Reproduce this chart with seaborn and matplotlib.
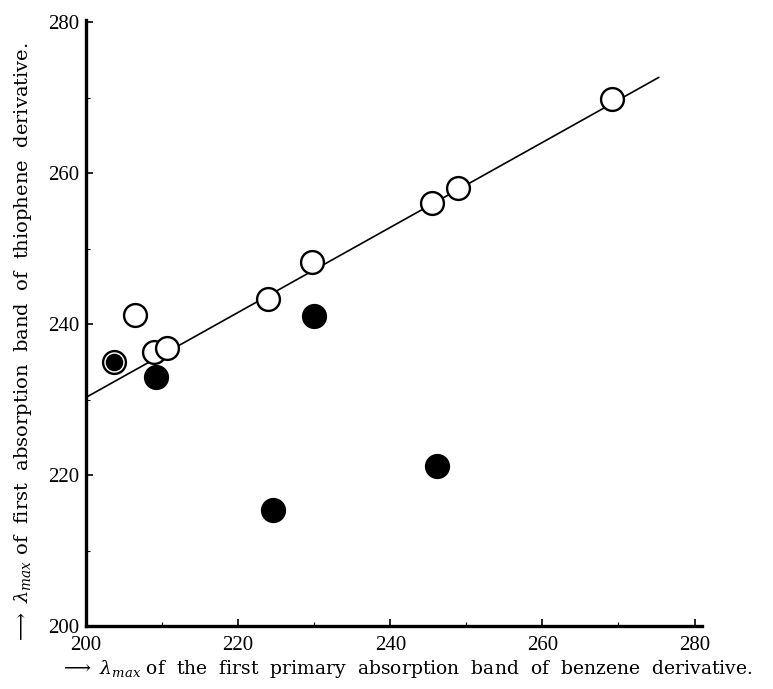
import seaborn as sns
import numpy as np
import pandas as pd
import matplotlib.pyplot as plt
from matplotlib.ticker import MultipleLocator

# benzene (x) vs thiophene (y) lambda max, nm
open_x = [269.1, 248.9, 245.5, 229.7, 223.9, 206.4, 208.9, 210.6]
open_y = [269.9, 258.1, 256.0, 248.2, 243.4, 241.2, 236.3, 236.8]
filled_x = [209.2, 230.0, 224.6, 246.1]
filled_y = [233.0, 241.1, 215.4, 221.2]
both_x = [203.7]
both_y = [235.0]
line_x = [200.0, 275.3]
line_y = [230.3, 272.7]

xticks = [200, 220, 240, 260, 280]
yticks = [200, 220, 240, 260, 280]

sns.set_style('white')
plt.rcParams['font.family'] = ['DejaVu Serif']
plt.rcParams['mathtext.fontset'] = 'dejavuserif'
for k in ['text.color', 'axes.labelcolor', 'xtick.color', 'ytick.color']:
    plt.rcParams[k] = 'black'

fig = plt.figure(figsize=(7.73, 6.89), dpi=100)
ax = fig.add_axes([0.1113, 0.0914, 0.797, 0.8795])

sns.lineplot(x=line_x, y=line_y, color='black', linewidth=1.2, ax=ax)

opn = pd.DataFrame({'x': open_x + both_x, 'y': open_y + both_y})
sns.scatterplot(data=opn, x='x', y='y', s=270, facecolor='white', edgecolor='black',
                linewidth=1.7, ax=ax, zorder=3)
sns.scatterplot(x=filled_x, y=filled_y, s=330, color='black', edgecolor='black', linewidth=0,
                ax=ax, zorder=4)
sns.scatterplot(x=both_x, y=both_y, s=160, color='black', edgecolor='black', linewidth=0,
                ax=ax, zorder=4)

ax.set_xlim(200, 281)
ax.set_ylim(200, 280.3)
ax.set_xticks(xticks)
ax.set_yticks(yticks)
ax.xaxis.set_minor_locator(MultipleLocator(10))
ax.yaxis.set_minor_locator(MultipleLocator(10))
ax.tick_params(which='major', direction='in', length=5, width=1.2, pad=4)
ax.tick_params(which='minor', direction='in', length=3, width=0.8)
ax.tick_params(axis='x', which='both', bottom=True, pad=7)
ax.tick_params(axis='y', which='both', left=True, pad=5)
for lab in ax.get_xticklabels() + ax.get_yticklabels():
    lab.set_family('Liberation Serif')
    lab.set_fontsize(15)

sns.despine(ax=ax)
ax.spines['left'].set_linewidth(2.4)
ax.spines['bottom'].set_linewidth(2.4)
ax.spines['left'].set_color('black')
ax.spines['bottom'].set_color('black')

ax.set_xlabel(r'$\longrightarrow$ $\lambda_{max}$ of  the  first  primary  absorption  band  of  benzene  derivative.',
              fontsize=13.5)
ax.set_ylabel(r'$\longrightarrow$ $\lambda_{max}$ of  first  absorption  band  of  thiophene  derivative.',
              fontsize=14)
ax.xaxis.set_label_coords(0.52, -0.053)
ax.yaxis.set_label_coords(-0.085, 0.467)

fig.savefig('out.png', dpi=100)
